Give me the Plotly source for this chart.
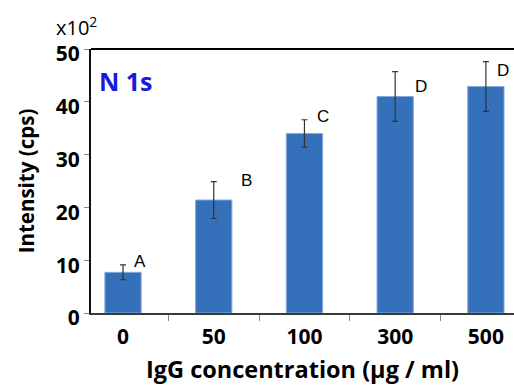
import plotly.graph_objects as go

categories = ["0", "50", "100", "300", "500"]
intensity = [7.7, 21.4, 34.0, 41.0, 42.9]
errors = [1.4, 3.5, 2.6, 4.7, 4.7]
letters = ["A", "B", "C", "D", "D"]
y_ticks = [0, 10, 20, 30, 40, 50]

# pixel offsets of the significance letters (style only)
letter_dx = [17, 33, 19, 26, 17]
letter_dy = [3, 1, 3, -15, -9]

FONT = "Open Sans"

fig = go.Figure()
fig.add_trace(go.Bar(
    x=list(range(len(categories))), y=intensity, width=0.4,
    marker=dict(color="#3570BA", line=dict(color="#86AADB", width=1)),
    error_y=dict(type="data", array=errors, color="#333333", thickness=1.2, width=3),
))

for i, (v, e, t, dx, dy) in enumerate(zip(intensity, errors, letters, letter_dx, letter_dy)):
    fig.add_annotation(x=i, y=v + e, text=t, showarrow=False, xanchor="center", yanchor="middle",
                       xshift=dx, yshift=dy, font=dict(family="Liberation Sans", size=17, color="black"))

fig.add_annotation(xref="paper", yref="paper", x=0.015, y=0.88, text="<b>N 1s</b>", showarrow=False,
                   xanchor="left", yanchor="middle", font=dict(family=FONT, size=25, color="#1A1ADC"))
fig.add_annotation(xref="paper", yref="paper", x=-0.087, y=1.0, yshift=23, text="x10<sup>2</sup>",
                   showarrow=False, xanchor="left", yanchor="middle",
                   font=dict(family=FONT, size=20, color="black"))

fig.add_shape(type="line", xref="paper", yref="paper", x0=0, x1=1, y0=1, y1=1,
              line=dict(color="black", width=2))

fig.update_layout(
    width=514, height=387,
    margin=dict(l=91, r=0, t=49, b=74),
    plot_bgcolor="white", paper_bgcolor="white",
    showlegend=False,
    font=dict(family=FONT, color="black"),
    xaxis=dict(
        range=[-0.353, 4.31],
        tickvals=list(range(len(categories))), ticktext=categories,
        showline=True, linecolor="#3A3A3A", linewidth=2,
        ticks="", showgrid=False, zeroline=False,
        minor=dict(ticks="outside", tick0=0.5, dtick=1, ticklen=6, tickcolor="#888888", tickwidth=1,
                   showgrid=False),
        ticklabelstandoff=4,
        tickfont=dict(family=FONT, size=21, color="black", weight="bold"),
        title=dict(text="<b>IgG concentration (µg / ml)</b>", font=dict(family=FONT, size=23.5, color="black"),
                   standoff=12),
    ),
    yaxis=dict(
        range=[0, 50], tickvals=y_ticks, ticktext=[str(v) for v in y_ticks],
        showline=True, linecolor="#111111", linewidth=2,
        ticks="outside", ticklen=5, tickcolor="#888888", tickwidth=1,
        ticklabelshift=5,
        tickfont=dict(family=FONT, size=21, color="black", weight="bold"),
        title=dict(text="<b>Intensity (cps)</b>", font=dict(family=FONT, size=20.5, color="black"), standoff=16),
        showgrid=False, zeroline=False,
    ),
)

fig.write_html("out.html")
